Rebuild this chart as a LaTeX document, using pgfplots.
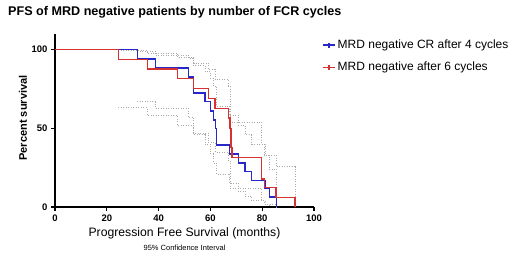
\documentclass[border=0pt]{standalone}
\usepackage{pgfplots}
\pgfplotsset{compat=1.18}
\usepackage{fontspec}
\setmainfont{Liberation Sans}
\definecolor{kmblue}{RGB}{40,40,200}
\definecolor{kmred}{RGB}{215,50,50}
\definecolor{cigray}{RGB}{170,170,170}
\begin{document}
\begin{tikzpicture}[x=1pt,y=1pt]
\useasboundingbox (-55,-51) rectangle (465,207);
\begin{axis}[
  at={(0,0)}, anchor=south west,
  scale only axis, width=259pt, height=173pt,
  xmin=0, xmax=100, ymin=0, ymax=110,
  axis x line*=bottom, axis y line*=left,
  axis line style={-, line width=1.2pt},
  xtick={0,20,40,60,80,100}, ytick={0,50,100},
  tick align=outside, major tick length=4pt,
  tick style={line width=1.1pt, black},
  /pgf/number format/assume math mode=true,
  ticklabel style={font=\bfseries\fontsize{9.5}{11}\selectfont},
  clip=false,
  legend style={at={(1.02,0.99)}, anchor=north west, draw=none, fill=none,
    font=\fontsize{12}{14}\selectfont, row sep=8pt, legend cell align=left},
]
% CI lines
\pgfplotsset{cistyle/.style={cigray, line width=0.7pt, dash pattern=on 0.8pt off 1.7pt, forget plot}}
\addplot[cistyle] coordinates {
(31.8,99.2)(38.7,99.2)(38.7,96.6)(51.5,96.6)(51.5,94.5)(53.6,94.5)(53.6,90)(57.9,90)(57.9,86)(60,86)(60,82)(61.1,82)(61.1,77)(62.3,77)(62.3,64)(67.4,64)(67.4,58)(70.8,58)(70.8,52)(73.4,52)(73.4,46)(76,46)(76,40)(81.1,40)(81.1,33)(82.7,33)(82.7,24)(85.6,24)(85.6,0)};
\addplot[cistyle] coordinates {
(24.4,99.5)(35.6,99.5)(35.6,97.8)(47.2,97.8)(47.2,95)(53.6,95)(53.6,91.5)(59.2,91.5)(59.2,87.5)(61.8,87.5)(61.8,81)(66.9,81)(66.9,77)(67.6,77)(67.6,54)(79.8,54)(79.8,40)(80.8,40)(80.8,33)(85.3,33)(85.3,25.6)(92.7,25.6)(92.7,0)};
\addplot[cistyle] coordinates {
(31.8,67)(38.7,67)(38.7,62.7)(51.5,62.7)(51.5,57)(53.6,57)(53.6,46)(57.9,46)(57.9,40)(60,40)(60,34)(61.1,34)(61.1,28)(62.3,28)(62.3,21)(67.4,21)(67.4,15)(70.8,15)(70.8,10)(73.4,10)(73.4,7)(76,7)(76,4)(81.1,4)(81.1,1.5)(82.7,1.5)(82.7,0)};
\addplot[cistyle] coordinates {
(24.4,63.1)(35.6,63.1)(35.6,58.5)(47.2,58.5)(47.2,52.1)(53.6,52.1)(53.6,47)(59.2,47)(59.2,41)(61.8,41)(61.8,35)(66.9,35)(66.9,29)(67.6,29)(67.6,12)(79.8,12)(79.8,4)(80.8,4)(80.8,2)(85.3,2)(85.3,0)};
% Blue KM
\addplot[kmblue, line width=1.3pt, legend image code/.code={
    \draw[kmblue, line width=1.3pt] (0pt,0pt) -- (12pt,0pt);
    \draw[kmblue, line width=1.1pt] (6pt,-2.5pt) -- (6pt,2.5pt);}] coordinates {
(0,100)(31.8,100)(31.8,94.1)(38.7,94.1)(38.7,88.4)(51.5,88.4)(51.5,82.6)(53.6,82.6)(53.6,72.5)(57.9,72.5)(57.9,66.9)(60.0,66.9)(60.0,61)(61.1,61)(61.1,55.3)(62.0,55.3)(62.0,50)(62.3,50)(62.3,39.4)(67.4,39.4)(67.4,33.7)(70.8,33.7)(70.8,28)(73.4,28)(73.4,22.4)(76.0,22.4)(76.0,16.9)(81.1,16.9)(81.1,12)(82.7,12)(82.7,6.3)(85.6,6.3)(85.6,0)};
\addlegendentry{MRD negative CR after 4 cycles}
% Red KM
\addplot[kmred, line width=1.3pt, legend image code/.code={
    \draw[kmred, line width=1.3pt] (0pt,0pt) -- (12pt,0pt);
    \draw[kmred, line width=1.1pt] (6pt,-2.5pt) -- (6pt,2.5pt);}] coordinates {
(0,100)(24.4,100)(24.4,94)(35.6,94)(35.6,87.8)(47.2,87.8)(47.2,81.5)(53.6,81.5)(53.6,75.5)(59.2,75.5)(59.2,69.2)(61.8,69.2)(61.8,62.8)(66.9,62.8)(66.9,56.6)(67.6,56.6)(67.6,50)(68.0,50)(68.0,38)(68.3,38)(68.3,31.5)(79.8,31.5)(79.8,17.8)(80.8,17.8)(80.8,12.5)(85.3,12.5)(85.3,6.2)(92.7,6.2)(92.7,0)};
\addlegendentry{MRD negative after 6 cycles}
\end{axis}
\node[anchor=base west, font=\bfseries\fontsize{12.6}{14}\selectfont, inner sep=0] at (-47,192) {PFS of MRD negative patients by number of FCR cycles};
\node[rotate=90, font=\bfseries\fontsize{11}{13}\selectfont, inner sep=0] at (-32,89) {Percent survival};
\node[font=\fontsize{12.2}{14}\selectfont, inner sep=0] at (129.5,-26) {Progression Free Survival (months)};
\node[font=\fontsize{7.5}{9}\selectfont, inner sep=0] at (129.5,-41) {95\% Confidence Interval};
\end{tikzpicture}
\end{document}
